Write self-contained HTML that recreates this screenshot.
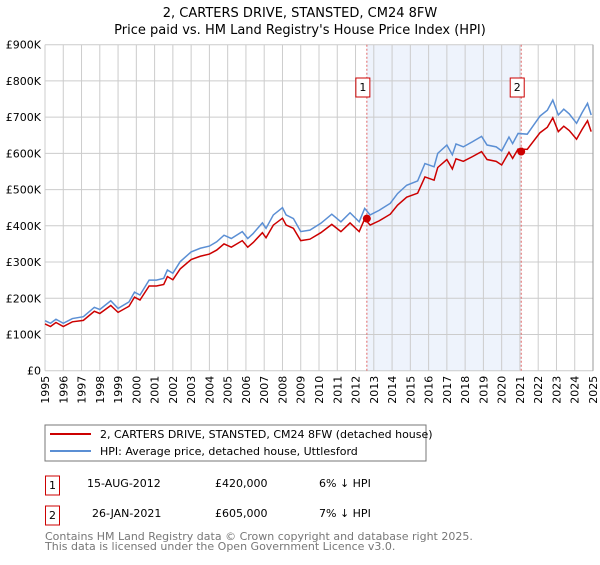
<!DOCTYPE html>
<html><head><meta charset="utf-8"><style>
body{margin:0;background:#fff;font-family:"Liberation Sans","DejaVu Sans",sans-serif;}
svg text{font-family:"DejaVu Sans","Liberation Sans",sans-serif;}
</style></head><body>
<svg id="chart" width="600" height="560" xmlns="http://www.w3.org/2000/svg">
<text x="300" y="17" text-anchor="middle" font-size="13">2, CARTERS DRIVE, STANSTED, CM24 8FW</text>
<text x="300" y="34" text-anchor="middle" font-size="13">Price paid vs. HM Land Registry's House Price Index (HPI)</text>
<g id="plot"></g>
<g>
<rect x="45" y="425" width="381" height="36" fill="#fff" stroke="#777"/>
<line x1="50" y1="434" x2="91" y2="434" stroke="#cc0000" stroke-width="2"/>
<text x="100" y="438" font-size="11">2, CARTERS DRIVE, STANSTED, CM24 8FW (detached house)</text>
<line x1="50" y1="451" x2="91" y2="451" stroke="#5b8fd4" stroke-width="2"/>
<text x="100" y="455" font-size="11">HPI: Average price, detached house, Uttlesford</text>
</g>
<g font-size="11">
<rect x="45.5" y="476" width="14" height="19" fill="#fff" stroke="#cc0000"/>
<text x="52.5" y="489" text-anchor="middle">1</text>
<text x="87" y="487">15-AUG-2012</text>
<text x="215" y="487">£420,000</text>
<text x="319" y="487">6% ↓ HPI</text>
</g>
<g font-size="11">
<rect x="45.5" y="506" width="14" height="19" fill="#fff" stroke="#cc0000"/>
<text x="52.5" y="519" text-anchor="middle">2</text>
<text x="92" y="517">26-JAN-2021</text>
<text x="215" y="517">£605,000</text>
<text x="319" y="517">7% ↓ HPI</text>
</g>
<text x="45" y="540" font-size="11" fill="#777">Contains HM Land Registry data © Crown copyright and database right 2025.</text>
<text x="45" y="550" font-size="11" fill="#777">This data is licensed under the Open Government Licence v3.0.</text>
</svg>
<script>
const years=[1995.0,1995.3,1995.6,1996.0,1996.5,1997.1,1997.7,1998.0,1998.6,1999.0,1999.6,1999.9,2000.2,2000.7,2001.1,2001.5,2001.7,2002.0,2002.4,2003.0,2003.5,2004.0,2004.4,2004.8,2005.2,2005.8,2006.1,2006.4,2006.9,2007.1,2007.5,2008.0,2008.2,2008.6,2009.0,2009.0,2009.5,2010.1,2010.7,2011.2,2011.7,2012.2,2012.5,2012.8,2013.3,2013.9,2014.3,2014.8,2015.4,2015.8,2016.3,2016.5,2017.0,2017.3,2017.5,2017.9,2018.4,2018.9,2019.2,2019.7,2020.0,2020.4,2020.6,2020.9,2021.4,2022.1,2022.5,2022.8,2023.1,2023.4,2023.7,2024.1,2024.4,2024.7,2024.9];
const hpiValues=[138,131,142,131,144,149,175,169,193,172,190,217,209,250,250,255,278,269,301,328,338,344,356,374,365,384,365,379,408,393,430,450,430,420,384,384,388,407,432,411,436,411,448,430,443,462,489,512,524,572,563,600,623,596,626,618,632,647,623,618,607,645,627,655,653,703,719,747,706,722,709,683,712,738,706];
const priceValues=[129,122,133,122,135,139,164,158,180,161,178,203,195,234,234,238,260,251,281,307,316,322,333,350,341,359,341,354,381,367,402,421,402,393,359,359,363,381,404,384,408,384,419,402,414,432,457,479,490,535,526,561,583,557,585,578,591,605,583,578,568,603,586,612,611,657,672,698,660,675,663,639,666,690,660];
const saleYears=[2012.62,2021.07];
const saleValues=[420,605];
const saleLabels=["1","2"];
const yTicks=[0,100,200,300,400,500,600,700,800,900];
const yTickLabels=["£0","£100K","£200K","£300K","£400K","£500K","£600K","£700K","£800K","£900K"];
const xTicks=[1995,1996,1997,1998,1999,2000,2001,2002,2003,2004,2005,2006,2007,2008,2009,2010,2011,2012,2013,2014,2015,2016,2017,2018,2019,2020,2021,2022,2023,2024,2025];

const X0=45,X1=593,Y0=370.7,Y1=44.7;
const xs=y=>X0+(y-1995)/30*(X1-X0);
const ys=v=>Y0-v/900*(Y0-Y1);
const NS="http://www.w3.org/2000/svg";
const plot=document.getElementById('plot');
function mk(t,a){const e=document.createElementNS(NS,t);for(const k in a)e.setAttribute(k,a[k]);plot.appendChild(e);return e;}

const shade=mk('rect',{x:xs(saleYears[0]),y:Y1,width:xs(saleYears[1])-xs(saleYears[0]),height:Y0-Y1,fill:'#eef3fc'});



xTicks.forEach((t,i)=>{
  const l=mk('line',{x1:xs(t),x2:xs(t),y1:Y1,y2:Y0,stroke:'#ccc','stroke-width':1});
  
  
  const tx=mk('text',{x:0,y:0,'font-size':11,'text-anchor':'end',transform:`translate(${xs(t)+4},${Y0+5}) rotate(-90)`});
  tx.textContent=t;
  
  
});
yTicks.forEach((t,i)=>{
  const l=mk('line',{x1:X0,x2:X1,y1:ys(t),y2:ys(t),stroke:'#ccc','stroke-width':1});
  
  
  const tx=mk('text',{x:41,y:ys(t)+4,'font-size':11,'text-anchor':'end'});
  tx.textContent=yTickLabels[i];
  
  
});
const border=mk('line',{x1:X1,x2:X1,y1:Y1,y2:Y0,stroke:'#999','stroke-width':1});



saleYears.forEach((y,i)=>{
  const l=mk('line',{x1:xs(y),x2:xs(y),y1:Y1,y2:Y0,stroke:'#e06666','stroke-width':1,'stroke-dasharray':'2,2'});
  
  
});

const hp=mk('polyline',{points:years.map((y,i)=>xs(y)+','+ys(hpiValues[i])).join(' '),fill:'none',stroke:'#5b8fd4','stroke-width':1.5});


const pp=mk('polyline',{points:years.map((y,i)=>xs(y)+','+ys(priceValues[i])).join(' '),fill:'none',stroke:'#cc0000','stroke-width':1.5});



saleYears.forEach((y,i)=>{
  const c=mk('circle',{cx:xs(y),cy:ys(saleValues[i]),r:4,fill:'#cc0000'});
  
  
  const bx=xs(y)-11;
  const r=mk('rect',{x:bx,y:78,width:14,height:19,fill:'#fff',stroke:'#cc0000'});
  
  
  const t=mk('text',{x:bx+7,y:91,'font-size':11,'text-anchor':'middle'});
  t.textContent=saleLabels[i];
  
  
});
</script>
</body></html>
